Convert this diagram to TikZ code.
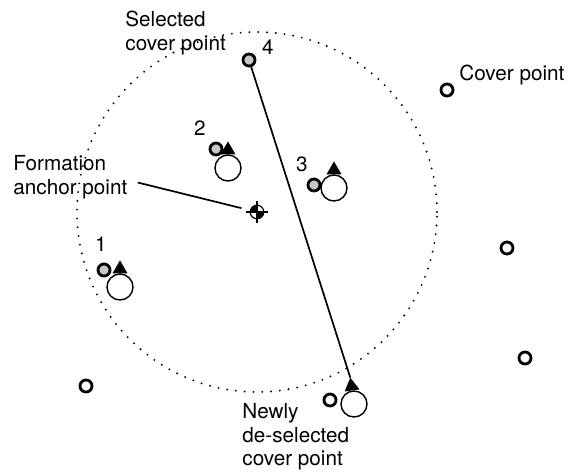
\documentclass[tikz,border=0pt]{standalone}
\usepackage{fontspec}
\setmainfont{TeX Gyre Heros}
\usetikzlibrary{shapes.geometric}
\definecolor{selgray}{RGB}{200,200,200}

\begin{document}
\begin{tikzpicture}[x=0.5pt, y=-0.5pt,
    lbl/.style={inner sep=0pt, align=left, font=\fontsize{10.35}{11.8}\selectfont},
    num/.style={inner sep=0pt, font=\fontsize{10.35}{11.8}\selectfont},
    cover/.style={circle, draw, line width=1.4pt, minimum size=6pt, inner sep=0pt},
    selected/.style={cover, fill=selgray},
    agent/.style={circle, draw, line width=0.7pt, minimum size=13pt, inner sep=0pt, fill=white},
    heading/.style={regular polygon, regular polygon sides=3, fill=black, minimum size=8.6pt, inner sep=0pt, outer sep=0pt, anchor=side 2}]
  \useasboundingbox (0,0) rectangle (568,473);
  \coordinate (centre) at (257,212);
  \draw[line width=1.05pt, line cap=round, dash pattern=on 0pt off 4.4pt] (centre) circle[radius=90pt];

  % formation anchor point
  \fill (centre) -- ([xshift=-3.4pt]centre) arc[start angle=180, end angle=90, radius=3.4pt] -- cycle;
  \fill (centre) -- ([xshift=3.4pt]centre) arc[start angle=0, end angle=-90, radius=3.4pt] -- cycle;
  \draw[line width=0.6pt] ([xshift=-5.5pt]centre) -- ([xshift=5.5pt]centre);
  \draw[line width=0.6pt] ([yshift=-5.5pt]centre) -- ([yshift=5.5pt]centre);
  \node[circle, draw, line width=0.6pt, minimum size=6.8pt, inner sep=0pt] (anc) at (centre) {};

  % cover points
  \node[cover] (c1) at (447,90) {};
  \node[cover] (c2) at (507,248) {};
  \node[cover] (c3) at (525,358) {};
  \node[cover] (c4) at (86,386) {};
  \node[cover] (c5) at (330,400) {};

  % selected cover points
  \node[selected] (g1) at (104,270) {};
  \node[selected] (g2) at (216,149) {};
  \node[selected] (g3) at (314,185) {};
  \node[selected] (g4) at (249,60) {};

  % agents
  \node[agent] (a1) at (120,287) {};
  \node[agent] (a2) at (228,168) {};
  \node[agent] (a3) at (334,188) {};
  \node[agent] (a5) at (354,404) {};
  \node[heading] (t1) at (a1.north) {};
  \node[heading] (t2) at (a2.north) {};
  \node[heading] (t3) at (a3.north) {};
  \node[heading, rotate=8] (t5) at (a5.98) {};

  \draw[line width=0.85pt] (g4) -- (t5.corner 1);

  % labels
  \node[num] (n1) at (101,244) {1};
  \node[num] (n2) at (200,128) {2};
  \node[num] (n3) at (302,164) {3};
  \node[num] (n4) at (268,47) {4};
  \node[lbl, anchor=north west] (sel) at (125,11) {Selected\\cover point};
  \node[lbl, anchor=north west] (cov) at (459,65) {Cover point};
  \node[lbl, anchor=north west] (form) at (13,155) {Formation\\anchor point};
  \node[lbl, anchor=north west] (desel) at (242,403) {Newly\\de-selected\\cover point};
  \draw[line width=0.85pt, shorten >=4.3pt] ([shift={(5pt,-2.75pt)}]form.east) -- (anc);
\end{tikzpicture}
\end{document}
